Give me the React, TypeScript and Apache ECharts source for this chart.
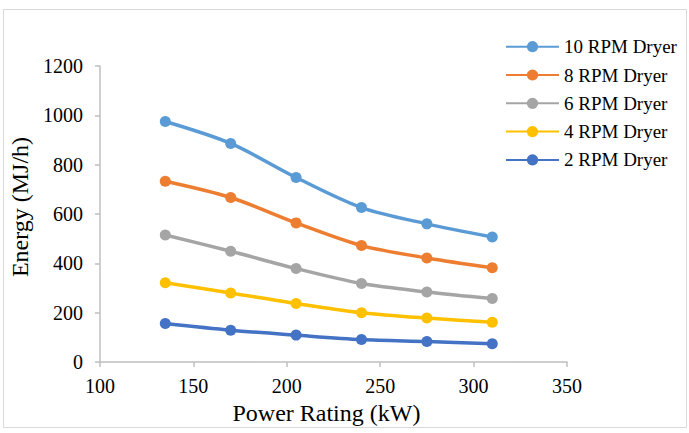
import React, { useEffect, useRef } from "react";
import * as echarts from "echarts";

const powerRatings = [135, 170, 205, 240, 275, 310];
const seriesNames = ["10 RPM Dryer", "8 RPM Dryer", "6 RPM Dryer", "4 RPM Dryer", "2 RPM Dryer"];
const rpm10 = [975, 886, 748, 626, 560, 507];
const rpm8 = [733, 667, 564, 472, 422, 382];
const rpm6 = [515, 449, 379, 318, 284, 257];
const rpm4 = [321, 280, 237, 200, 178, 161];
const rpm2 = [156, 129, 109, 91, 83, 74];
const seriesColors = ["#5B9BD5", "#ED7D31", "#A5A5A5", "#FFC000", "#4472C4"];

const FONT = '"Times New Roman", "Liberation Serif", "DejaVu Serif", serif';

export default function App() {
  const ref = useRef<HTMLDivElement>(null);
  useEffect(() => {
    if (!ref.current) return;
    const chart = echarts.init(ref.current, undefined, { renderer: "svg" });
    const values = [rpm10, rpm8, rpm6, rpm4, rpm2];
    const series = values.map((vals, i) => ({
      name: seriesNames[i],
      type: "line",
      data: vals.map((v, j) => [powerRatings[j], v]),
      smooth: 0.3,
      symbol: "circle",
      symbolSize: 11,
      lineStyle: { width: 3.5, color: seriesColors[i] },
      itemStyle: { color: seriesColors[i] },
      z: 10 - i,
    }));
    chart.setOption({
      animation: false,
      backgroundColor: "#fff",
      textStyle: { fontFamily: FONT },
      graphic: [
        {
          type: "rect",
          shape: { x: 3.5, y: 9.5, width: 683, height: 418 },
          style: { fill: "none", stroke: "#d9d9d9", lineWidth: 1 },
          silent: true,
        },
      ],
      legend: {
        orient: "vertical",
        left: 505,
        top: 37.2,
        padding: 0,
        itemWidth: 53,
        itemHeight: 14,
        itemGap: 9.3,
        data: seriesNames,
        textStyle: { fontFamily: FONT, fontSize: 19, color: "#000", lineHeight: 19 },
      },
      grid: { left: 88, right: 122, top: 66, bottom: 71 },
      xAxis: {
        type: "value",
        min: 100,
        max: 350,
        interval: 50,
        name: "Power Rating (kW)",
        nameLocation: "middle",
        nameGap: 36,
        nameTextStyle: { fontFamily: FONT, fontSize: 24, color: "#000", padding: [0, 14, 0, 0] },
        axisLine: { show: true, lineStyle: { color: "#bfbfbf", width: 1.5 } },
        axisTick: { show: true, length: 5, lineStyle: { color: "#bfbfbf", width: 1.5 } },
        axisLabel: { fontFamily: FONT, fontSize: 20, color: "#000", margin: 14 },
        splitLine: { show: false },
      },
      yAxis: {
        type: "value",
        min: 0,
        max: 1200,
        interval: 200,
        name: "Energy (MJ/h)",
        nameLocation: "middle",
        nameGap: 52,
        nameTextStyle: { fontFamily: FONT, fontSize: 24, color: "#000", padding: [0, 0, 0, 14] },
        axisLine: { show: true, lineStyle: { color: "#bfbfbf", width: 1.5 } },
        axisTick: { show: true, length: 5, lineStyle: { color: "#bfbfbf", width: 1.5 } },
        axisLabel: {
          fontFamily: FONT,
          fontSize: 20,
          color: "#000",
          margin: 17,
          formatter: (v: number) => String(v),
        },
        splitLine: { show: false },
      },
      series,
    });
    return () => chart.dispose();
  }, []);
  return (
    <div
      ref={ref}
      style={{ position: "fixed", left: 0, top: 0, width: 689, height: 433 }}
    />
  );
}
